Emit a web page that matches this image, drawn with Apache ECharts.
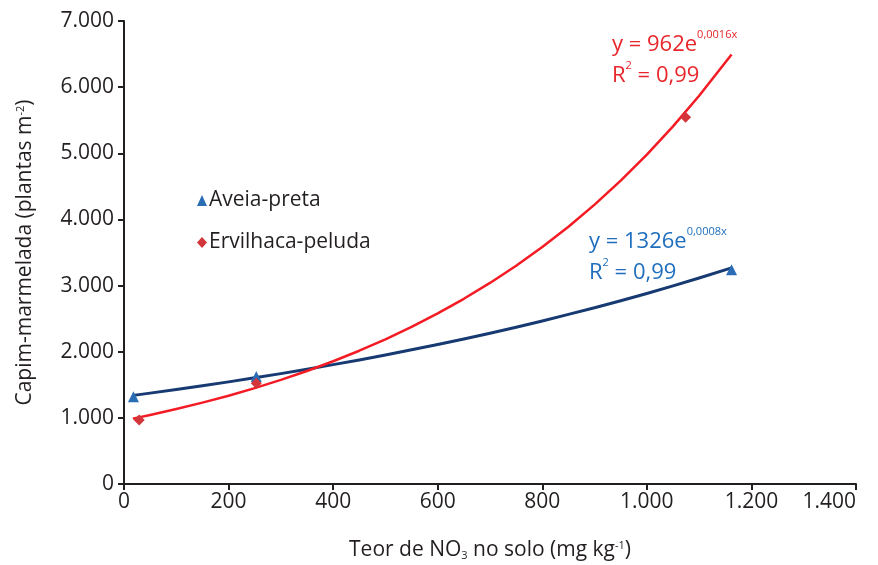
<!DOCTYPE html>
<html><head><meta charset="utf-8">
<script src="https://cdn.jsdelivr.net/npm/echarts@6/dist/echarts.min.js"></script>
<style>html,body{margin:0;padding:0;background:#fff}#c{width:878px;height:565px}</style>
</head><body><div id="c"></div>
<script>
// Observed points
const aveiaX = [18, 253, 1162];
const aveiaY = [1320, 1625, 3240];
const ervilhacaX = [29, 253, 1074];
const ervilhacaY = [968, 1522, 5546];
// Trend curves
const trendAveiaX = [18, 50, 100, 150, 200, 250, 300, 350, 400, 450, 500, 550, 600, 650, 700, 750, 800, 850, 900, 950, 1000, 1050, 1100, 1162];
const trendAveiaY = [1340, 1374, 1428, 1485, 1544, 1605, 1669, 1736, 1805, 1876, 1951, 2029, 2109, 2193, 2280, 2371, 2465, 2564, 2665, 2771, 2881, 2996, 3115, 3268];
const trendErvX = [17, 50, 100, 150, 200, 250, 300, 350, 400, 450, 500, 550, 600, 650, 700, 750, 800, 850, 900, 950, 1000, 1050, 1100, 1162];
const trendErvY = [988, 1043, 1133, 1230, 1335, 1450, 1574, 1709, 1856, 2015, 2187, 2375, 2579, 2800, 3040, 3300, 3582, 3890, 4224, 4586, 4979, 5406, 5869, 6495];
const xTicks = [0, 200, 400, 600, 800, 1000, 1200, 1400];
const yTicks = [0, 1000, 2000, 3000, 4000, 5000, 6000, 7000];

const zip = (a, b) => a.map((v, i) => [v, b[i]]);
const fmt = v => String(v).replace(/\B(?=(\d{3})+(?!\d))/g, '.');
const FONT = '"Open Sans", sans-serif';
const TXT = '#231f20';

const chart = echarts.init(document.getElementById('c'), null, {renderer: 'canvas'});
chart.setOption({
  animation: false,
  backgroundColor: '#fff',
  grid: {left: 124, right: 22, top: 21, bottom: 81, containLabel: false, outerBoundsMode: 'none'},
  xAxis: {
    type: 'value', min: xTicks[0], max: xTicks[xTicks.length - 1], interval: 200,
    axisLine: {lineStyle: {color: TXT, width: 2}},
    axisTick: {show: true, length: 6, lineStyle: {color: TXT, width: 2}},
    splitLine: {show: false},
    axisLabel: {formatter: fmt, fontFamily: FONT, fontSize: 21, color: TXT, margin: 8, alignMaxLabel: 'right'},
    name: 'Teor de NO{sub|3} no solo (mg kg{sup|-1})',
    nameLocation: 'middle', nameGap: 56,
    nameTextStyle: {fontFamily: FONT, fontSize: 21, color: TXT,
      rich: {sub: {fontSize: 11, fontFamily: FONT, color: TXT, verticalAlign: 'bottom', padding: [10, 0, 0, 0]},
             sup: {fontSize: 11, fontFamily: FONT, color: TXT, verticalAlign: 'top', padding: [0, 0, 10, 0]}}}
  },
  yAxis: {
    type: 'value', min: yTicks[0], max: yTicks[yTicks.length - 1], interval: 1000,
    axisLine: {show: true, lineStyle: {color: TXT, width: 2}},
    axisTick: {show: true, length: 6, lineStyle: {color: TXT, width: 2}},
    splitLine: {show: false},
    axisLabel: {formatter: fmt, fontFamily: FONT, fontSize: 21, color: TXT, margin: 10},
    name: 'Capim-marmelada (plantas m{sup|-2})',
    nameLocation: 'middle', nameGap: 88,
    nameTextStyle: {fontFamily: FONT, fontSize: 21, color: TXT,
      rich: {sup: {fontSize: 11, fontFamily: FONT, color: TXT, verticalAlign: 'top', padding: [0, 0, 10, 0]}}}
  },
  legend: {
    data: ['Aveia-preta', 'Ervilhaca-peluda'],
    orient: 'vertical', left: 192, top: 185, itemGap: 21,
    itemWidth: 10, itemHeight: 11,
    textStyle: {fontFamily: FONT, fontSize: 21, color: TXT, padding: [0, 0, 0, -3]}
  },
  series: [
    {name: 'trendAveia', type: 'line', data: zip(trendAveiaX, trendAveiaY), smooth: false,
     showSymbol: false, lineStyle: {color: '#173a72', width: 3, join: 'round'}, z: 2, silent: true},
    {name: 'trendErv', type: 'line', data: zip(trendErvX, trendErvY), smooth: false,
     showSymbol: false, lineStyle: {color: '#f41c24', width: 2.5, join: 'round'}, z: 2, silent: true},
    {name: 'Aveia-preta', type: 'scatter', data: zip(aveiaX, aveiaY), symbol: 'triangle',
     symbolSize: 11, itemStyle: {color: '#2a6db5', opacity: 1}, z: 3},
    {name: 'Ervilhaca-peluda', type: 'scatter', data: zip(ervilhacaX, ervilhacaY), symbol: 'diamond',
     symbolSize: 11, itemStyle: {color: '#d2353a', opacity: 1}, z: 3}
  ],
  graphic: [
    {type: 'text', left: 612, top: 29, style: {
      text: '{m|y = 962e}{s|0,0016x}\n{m|R}{s|2}{m| = 0,99}',
      rich: {m: {fontFamily: FONT, fontSize: 22, fill: '#e8262b', lineHeight: 31},
             s: {fontFamily: FONT, fontSize: 11, fill: '#e8262b', verticalAlign: 'top', lineHeight: 31, padding: [0, 0, 16, 0]}}}},
    {type: 'text', left: 589, top: 226, style: {
      text: '{m|y = 1326e}{s|0,0008x}\n{m|R}{s|2}{m| = 0,99}',
      rich: {m: {fontFamily: FONT, fontSize: 22, fill: '#1f6ebd', lineHeight: 31},
             s: {fontFamily: FONT, fontSize: 11, fill: '#1f6ebd', verticalAlign: 'top', lineHeight: 31, padding: [0, 0, 16, 0]}}}}
  ]
});
</script></body></html>
